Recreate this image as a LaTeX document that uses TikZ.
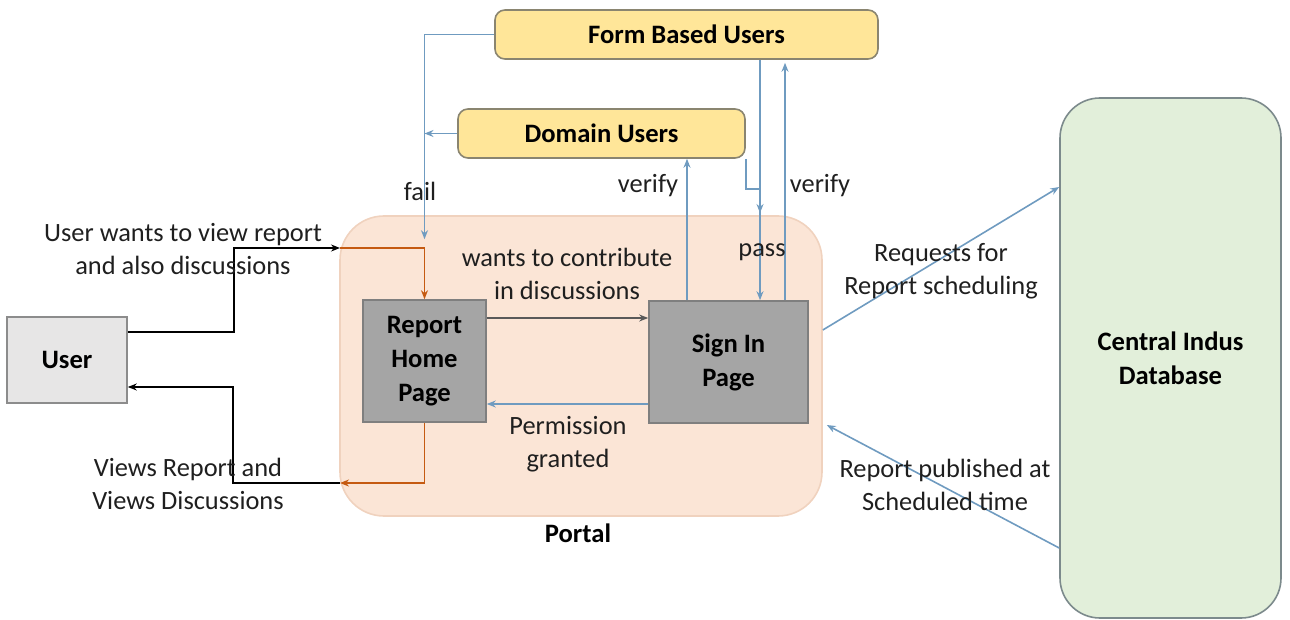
\documentclass[tikz,border=0pt]{standalone}
\usepackage{fontspec}
\setmainfont{Carlito}
\usetikzlibrary{arrows.meta}
\definecolor{groupfill}{HTML}{FFE699}
\definecolor{groupdraw}{HTML}{8A8570}
\definecolor{portalfill}{HTML}{FBE5D6}
\definecolor{portaldraw}{HTML}{F0D2BE}
\definecolor{pagefill}{HTML}{A5A5A5}
\definecolor{pagedraw}{HTML}{7F7F7F}
\definecolor{userfill}{HTML}{E7E6E6}
\definecolor{dbfill}{HTML}{E2EFDA}
\definecolor{dbdraw}{HTML}{7C8A8C}
\definecolor{linkblue}{HTML}{6F9BC0}
\definecolor{linkorange}{HTML}{C55A11}
\definecolor{labeltext}{HTML}{1F1F1F}
\tikzstyle{labelfont}=[font=\fontsize{13.2}{16.5}\selectfont, text=labeltext, align=center]
\tikzstyle{boldfont}=[font=\fontsize{13.3}{17}\selectfont\bfseries, align=center]
\tikzstyle{groupbox}=[boldfont, draw=groupdraw, fill=groupfill, line width=0.8pt,
  rounded corners=5pt, minimum height=24.5pt]
\tikzstyle{pagebox}=[boldfont, draw=pagedraw, fill=pagefill, line width=0.8pt,
  minimum height=61pt]
\tikzstyle{note}=[labelfont, inner sep=0pt]
\tikzset{
    tip/.style={-{Stealth[length=4.5pt,width=3.5pt]}},
    blueline/.style={draw=linkblue, line width=0.8pt, tip},
    orangeline/.style={draw=linkorange, line width=0.8pt, tip},
    blackline/.style={draw=black, line width=0.8pt, tip},
    grayline/.style={draw=black!65, line width=0.8pt, tip}}
\newcommand{\usersbox}[3]{node (#1) [groupbox, minimum width=#2] {#3}}
\newcommand{\pagenode}[3]{node (#1) [pagebox, minimum width=#2] {#3}}

\begin{document}
\begin{tikzpicture}[x=0.5pt, y=-0.5pt]
\useasboundingbox (0,0) rectangle (1290,620);
% Portal area behind the pages
\node (portal) [draw=portaldraw, fill=portalfill, line width=0.8pt, rounded corners=22pt,
  minimum width=241pt, minimum height=150pt] at (581,366) {};
\node (portallabel) [boldfont] at (578,533) {Portal};

% Draw diagram elements
\path (686.5,34.5) \usersbox{form}{191.5pt}{Form Based Users};
\path (601.5,133.5) \usersbox{domain}{143.5pt}{Domain Users};
\path (424.5,361) \pagenode{report}{61.5pt}{Report\\Home\\Page};
\path (728.5,362) \pagenode{signin}{79.5pt}{Sign In\\Page};
\node (user) [boldfont, draw=black!45, fill=userfill, line width=0.8pt,
  minimum width=60pt, minimum height=43pt] at (67,360) {User};
\node (db) [boldfont, draw=dbdraw, fill=dbfill, line width=0.8pt, rounded corners=20pt,
  minimum width=110.5pt, minimum height=260pt] at (1170.5,358) {Central Indus\\Database};

% Entry and exit of the portal
\coordinate (in1) at (340,248);
\coordinate (out1) at (340,483);
\coordinate (passjoin) at (760,213);

% Draw arrows between elements
\path [blackline] ([yshift=14pt]user.east) -- ++(106,0) |- (in1);
\path [orangeline] (in1) -| (report.north);
\path [orangeline] (report.south) |- (out1);
\path [blackline] (out1) -- ++(-107,0) |- ([yshift=-13.5pt]user.east);

\path [blueline] (form.west) -| ([yshift=30pt]report.north);
\path [blueline] (domain.west) -- (domain.west -| report.north);
\path [blueline] ([xshift=-20.75pt]signin.north) -- ([xshift=-20.75pt]signin.north |- domain.south);
\path [blueline] (domain.south east) -- ++(0,30) -| (passjoin);
\path [blueline] ([xshift=15.75pt]signin.north |- form.south) -- ([xshift=15.75pt]signin.north);
\path [blueline] ([xshift=28.25pt]signin.north) -- ([xshift=28.25pt,yshift=-1.5pt]signin.north |- form.south);

\path [grayline] ([yshift=21.5pt]report.east) -- ([yshift=21.5pt]report.east -| signin.west);
\path [blueline] ([yshift=-21pt]signin.west) -- ([yshift=-21pt]signin.west -| report.east);

\path [blueline] ([yshift=18pt]portal.east) -- ([yshift=85.5pt]db.west);
\path [blueline] ([yshift=-95pt]db.west) -- ([xshift=2pt,yshift=-29.5pt]portal.east);

% Labels on the arrows
\node (wantsview) [note] at (183,249) {User wants to view report\\and also discussions};
\node (views) [note] at (188,484) {Views Report and\\Views Discussions};
\node (fail) [note] at (420,191) {fail};
\node (contribute) [note] at (567,274) {wants to contribute\\in discussions};
\node (granted) [note] at (568,444) {Permission\\granted};
\node (verifyleft) [note] at (648,186) {verify};
\node (verifyright) [note] at (820,186) {verify};
\node (pass) [note] at (762,252) {pass};
\node (requests) [note] at (941,271) {Requests for\\Report scheduling};
\node (published) [note] at (945,485) {Report published at\\Scheduled time};
\end{tikzpicture}
\end{document}
